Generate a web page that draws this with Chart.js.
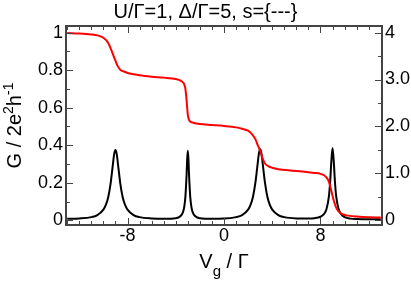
<!DOCTYPE html>
<html>
<head>
<meta charset="utf-8">
<title>Conductance and occupation</title>
<script src="https://cdn.jsdelivr.net/npm/chart.js"></script>
<style>
    html, body { margin: 0; padding: 0; background: #fff; }
    #wrap { width: 411px; height: 284px; }
</style>
</head>
<body>
<div id="wrap"><canvas id="chart" width="411" height="284"></canvas></div>
<script>
// Conductance G (left axis)
const gX = [-13, -12, -11, -10.5, -10, -9.8, -9.6, -9.4, -9.25, -9.1, -9, -8.9, -8.75, -8.6, -8.4, -8.2, -8, -7.5, -7, -6, -5, -4,
    -3.6, -3.4, -3.3, -3.2, -3.1, -3.05, -3, -2.95, -2.9, -2.8, -2.7, -2.6, -2.4, -2, -1, 0, 1, 1.5, 2, 2.2, 2.4, 2.6, 2.75, 2.9,
    3, 3.1, 3.25, 3.4, 3.6, 3.8, 4, 4.5, 5, 6, 7, 7.5, 8, 8.3, 8.5, 8.7, 8.8, 8.9, 9, 9.1, 9.2, 9.3, 9.5, 9.7, 10, 10.5, 11, 12, 13];
const gVals = [0.008, 0.010, 0.017, 0.028, 0.057, 0.082, 0.123, 0.197, 0.277, 0.355, 0.375, 0.355, 0.277, 0.197, 0.123, 0.082, 0.057, 0.028, 0.017, 0.010, 0.008, 0.011,
    0.023, 0.044, 0.070, 0.126, 0.245, 0.328, 0.370, 0.328, 0.245, 0.126, 0.070, 0.044, 0.023, 0.011, 0.008, 0.009, 0.017, 0.028, 0.057, 0.082, 0.124, 0.199, 0.279, 0.358,
    0.378, 0.358, 0.279, 0.199, 0.124, 0.082, 0.057, 0.028, 0.017, 0.010, 0.009, 0.011, 0.019, 0.034, 0.060, 0.129, 0.204, 0.314, 0.385, 0.314, 0.204, 0.129, 0.060, 0.034, 0.017, 0.009, 0.007, 0.006, 0.006];

// Occupation N (right axis)
const nX = [-13, -12, -11, -10.5, -10, -9.6, -9.3, -9, -8.8, -8.6, -8.3, -8, -7, -6, -5, -4, -3.5, -3.3, -3.2, -3.1, -3, -2.9, -2.7, -2.4, -2, -1, 0, 1, 1.5,
    2, 2.3, 2.6, 2.8, 3, 3.2, 3.4, 3.7, 4, 4.5, 5.5, 6.5, 7.5, 8, 8.3, 8.5, 8.7, 8.9, 9.1, 9.3, 9.5, 9.8, 10.3, 11, 12, 13];
const nVals = [3.99, 3.98, 3.96, 3.94, 3.89, 3.78, 3.60, 3.40, 3.28, 3.21, 3.17, 3.14, 3.09, 3.06, 3.04, 3.01, 2.96, 2.90, 2.80, 2.55, 2.25, 2.14, 2.09, 2.07, 2.05, 2.03, 2.01, 1.98, 1.95,
    1.91, 1.84, 1.73, 1.60, 1.48, 1.32, 1.21, 1.15, 1.12, 1.09, 1.06, 1.04, 1.01, 0.99, 0.96, 0.91, 0.82, 0.63, 0.42, 0.27, 0.19, 0.13, 0.10, 0.08, 0.065, 0.06];

// Tick labels
const xTicks = [-8, 0, 8];
const xTickLabels = ['-8', '0', '8'];
const gTicks = [0, 0.2, 0.4, 0.6, 0.8, 1];
const gTickLabels = ['0', '0.2', '0.4', '0.6', '0.8', '1'];
const nTicks = [0, 1, 2, 3, 4];
const nTickLabels = ['0', '1.0', '2.0', '3.0', '4'];

const FONT = "'Liberation Sans', Arial, sans-serif";
const tickFont = { family: FONT, size: 18 };

// Draws the frame, the inward ticks and the two axis titles
const framePlugin = {
    id: 'frame',
    afterDraw(chart) {
        const { ctx, chartArea: a, scales } = chart;
        ctx.save();
        ctx.strokeStyle = '#444';
        ctx.lineWidth = 1;
        ctx.beginPath();
        // x ticks, bottom and top
        for (let v = -13; v <= 13; v++) {
            const px = Math.round(scales.x.getPixelForValue(v)) + 0.5;
            const len = v % 8 === 0 ? 7 : 4;
            ctx.moveTo(px, a.bottom); ctx.lineTo(px, a.bottom - len);
            ctx.moveTo(px, a.top); ctx.lineTo(px, a.top + len);
        }
        // left ticks every 0.1
        for (let i = 0; i <= 10; i++) {
            const py = Math.round(scales.yG.getPixelForValue(i / 10)) + 0.5;
            const len = i % 2 === 0 ? 7 : 4;
            ctx.moveTo(a.left, py); ctx.lineTo(a.left + len, py);
        }
        // right ticks every 0.5
        for (let i = 0; i <= 8; i++) {
            const py = Math.round(scales.yN.getPixelForValue(i / 2)) + 0.5;
            const len = i % 2 === 0 ? 7 : 4;
            ctx.moveTo(a.right, py); ctx.lineTo(a.right - len, py);
        }
        ctx.stroke();
        ctx.lineWidth = 2;
        ctx.strokeRect(a.left, a.top, a.right - a.left, a.bottom - a.top);

        // axis titles with sub/superscripts
        ctx.fillStyle = '#000';
        ctx.textBaseline = 'alphabetic';
        ctx.textAlign = 'left';
        const drawPieces = (pieces, x0, y0) => {
            let w = 0;
            pieces.forEach(p => { ctx.font = p[1] + 'px ' + FONT; w += ctx.measureText(p[0]).width; });
            let x = x0 - w / 2;
            pieces.forEach(p => {
                ctx.font = p[1] + 'px ' + FONT;
                ctx.fillText(p[0], x, y0 + p[2]);
                x += ctx.measureText(p[0]).width;
            });
        };
        drawPieces([['V', 20, 0], ['g', 15, 8], [' / \u0393', 20, 0]], (a.left + a.right) / 2, 268);
        ctx.translate(21, (a.top + a.bottom) / 2);
        ctx.rotate(-Math.PI / 2);
        drawPieces([['G / 2e', 20, 0], ['2', 14, -8], ['h', 20, 0], ['-1', 14, -8]], 0, 0);
        ctx.restore();
    }
};

new Chart(document.getElementById('chart'), {
    type: 'line',
    data: {
        datasets: [
            {
                label: 'N',
                data: nX.map((x, i) => ({ x: x, y: nVals[i] })),
                yAxisID: 'yN',
                borderColor: '#ff0000',
                borderWidth: 2,
                pointRadius: 0,
                cubicInterpolationMode: 'monotone'
            },
            {
                label: 'G',
                data: gX.map((x, i) => ({ x: x, y: gVals[i] })),
                yAxisID: 'yG',
                borderColor: '#000000',
                borderWidth: 2,
                pointRadius: 0,
                cubicInterpolationMode: 'monotone'
            }
        ]
    },
    options: {
        responsive: false,
        animation: false,
        layout: { padding: 0 },
        plugins: {
            legend: { display: false },
            tooltip: { enabled: false },
            title: {
                display: true,
                text: 'U/\u0393=1, \u0394/\u0393=5, s={---}',
                color: '#000',
                font: { family: FONT, size: 20, weight: 'normal' },
                padding: { top: 0, bottom: 2 }
            }
        },
        scales: {
            x: {
                type: 'linear',
                min: -13.1,
                max: 13.1,
                grid: { display: false, drawTicks: false },
                border: { display: false },
                afterBuildTicks: s => { s.ticks = xTicks.map(v => ({ value: v })); },
                afterFit: s => { s.height = 59; },
                ticks: { padding: 0, color: '#000', font: tickFont, maxRotation: 0, autoSkip: false,
                    callback: (v, i) => xTickLabels[i] }
            },
            yG: {
                position: 'left',
                min: -0.025,
                max: 1.035,
                grid: { display: false, drawTicks: false },
                border: { display: false },
                afterBuildTicks: s => { s.ticks = gTicks.map(v => ({ value: v })); },
                afterFit: s => { s.width = 66; },
                ticks: { padding: 3, color: '#000', font: tickFont, autoSkip: false,
                    callback: (v, i) => gTickLabels[i] }
            },
            yN: {
                position: 'right',
                min: -0.1,
                max: 4.14,
                grid: { display: false, drawTicks: false },
                border: { display: false },
                afterBuildTicks: s => { s.ticks = nTicks.map(v => ({ value: v })); },
                afterFit: s => { s.width = 29; },
                ticks: { padding: 3, color: '#000', font: tickFont, autoSkip: false,
                    callback: (v, i) => nTickLabels[i] }
            }
        }
    },
    plugins: [framePlugin]
});
</script>
</body>
</html>
